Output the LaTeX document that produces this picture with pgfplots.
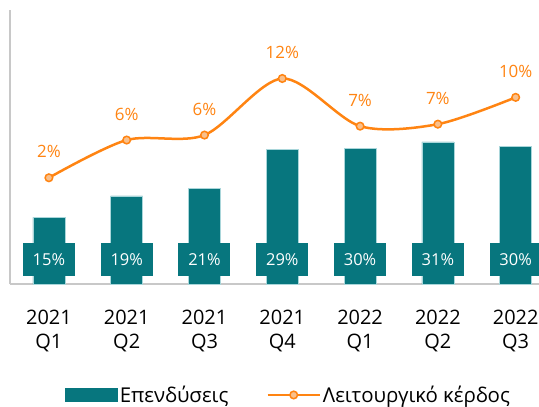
\documentclass[border=0pt]{standalone}
\usepackage{pgfplots}
\pgfplotsset{compat=1.18}
\usepackage{fontspec}
\setmainfont{Open Sans}
\definecolor{teal1}{HTML}{07767E}
\definecolor{org}{HTML}{FF8412}
\definecolor{orgfill}{HTML}{F9C08C}
\definecolor{axgray}{HTML}{C8C8C8}
\definecolor{barline}{HTML}{A9D6DA}
\begin{document}
\begin{tikzpicture}
\begin{axis}[
  at={(10bp,123bp)}, anchor=south west,
  scale only axis, width=529bp, height=274bp,
  xmin=-0.5, xmax=6.3, ymin=0, ymax=60,
  axis x line*=bottom, axis y line*=left,
  axis line style={axgray, line width=1.3bp, -},
  ytick=\empty, xtick={0,1,2,3,4,5,6}, major tick length=0pt,
  xticklabels={{2021\\Q1},{2021\\Q2},{2021\\Q3},{2021\\Q4},{2022\\Q1},{2022\\Q2},{2022\\Q3}},
  xticklabel style={align=center, font=\fontsize{20}{24}\selectfont, text=black, yshift=-23bp},
  clip=false,
  legend columns=2,
  legend style={draw=none, fill=none, at={(0.104,-0.405)}, anchor=west, inner sep=0pt,
    font=\fontsize{20.5}{24}\selectfont, /tikz/every even column/.append style={column sep=36bp}},
  legend cell align=left,
]
\addplot[ybar, bar width=32bp, bar shift=0pt, fill=teal1, draw=barline, line width=0.6bp,
  legend image code/.code={\fill[teal1] (0bp,-6.5bp) rectangle (52bp,6.5bp);}]
  coordinates {(0,14.6) (1,19.3) (2,21.0) (3,29.5) (4,29.7) (5,31.1) (6,30.2)};
\addlegendentry{Επενδύσεις}
\addplot[forget plot, only marks, mark=none, nodes near coords, point meta=explicit symbolic,
  every node near coord/.style={fill=teal1, text=white, minimum width=52bp, minimum height=33bp,
    inner sep=0pt, anchor=south, font=\fontsize{16.5}{18}\selectfont}]
  table[meta=lab] {
x y lab
0 1.75 15\%
1 1.75 19\%
2 1.75 21\%
3 1.75 29\%
4 1.75 30\%
5 1.75 31\%
6 1.75 30\%
};
\addlegendimage{legend image code/.code={\draw[org, line width=2.5bp] (0bp,0bp) -- (52bp,0bp);
  \draw[org, fill=orgfill, line width=1.5bp] (26bp,0bp) circle (3.8bp);}}
\addlegendentry{Λειτουργικό κέρδος}
\end{axis}
\begin{axis}[
  at={(10bp,123bp)}, anchor=south west,
  scale only axis, width=529bp, height=274bp,
  xmin=-0.5, xmax=6.3, ymin=-8.7, ymax=18.9,
  hide axis, clip=false,
]
\addplot[smooth, org, line width=2.5bp, mark=*, mark size=3.8bp,
  mark options={fill=orgfill, draw=org, line width=1.5bp},
  nodes near coords, point meta=explicit symbolic,
  every node near coord/.style={text=org, inner sep=0pt, anchor=south, yshift=19bp, font=\fontsize{17}{18}\selectfont}]
  table[meta=lab] {
x y lab
0 2.0 2\%
1 5.8 6\%
2 6.3 6\%
3 12.0 12\%
4 7.2 7\%
5 7.4 7\%
6 10.1 10\%
};
\end{axis}
\pgfresetboundingbox
\path (0,0) rectangle (539bp,407bp);
\end{tikzpicture}
\end{document}
